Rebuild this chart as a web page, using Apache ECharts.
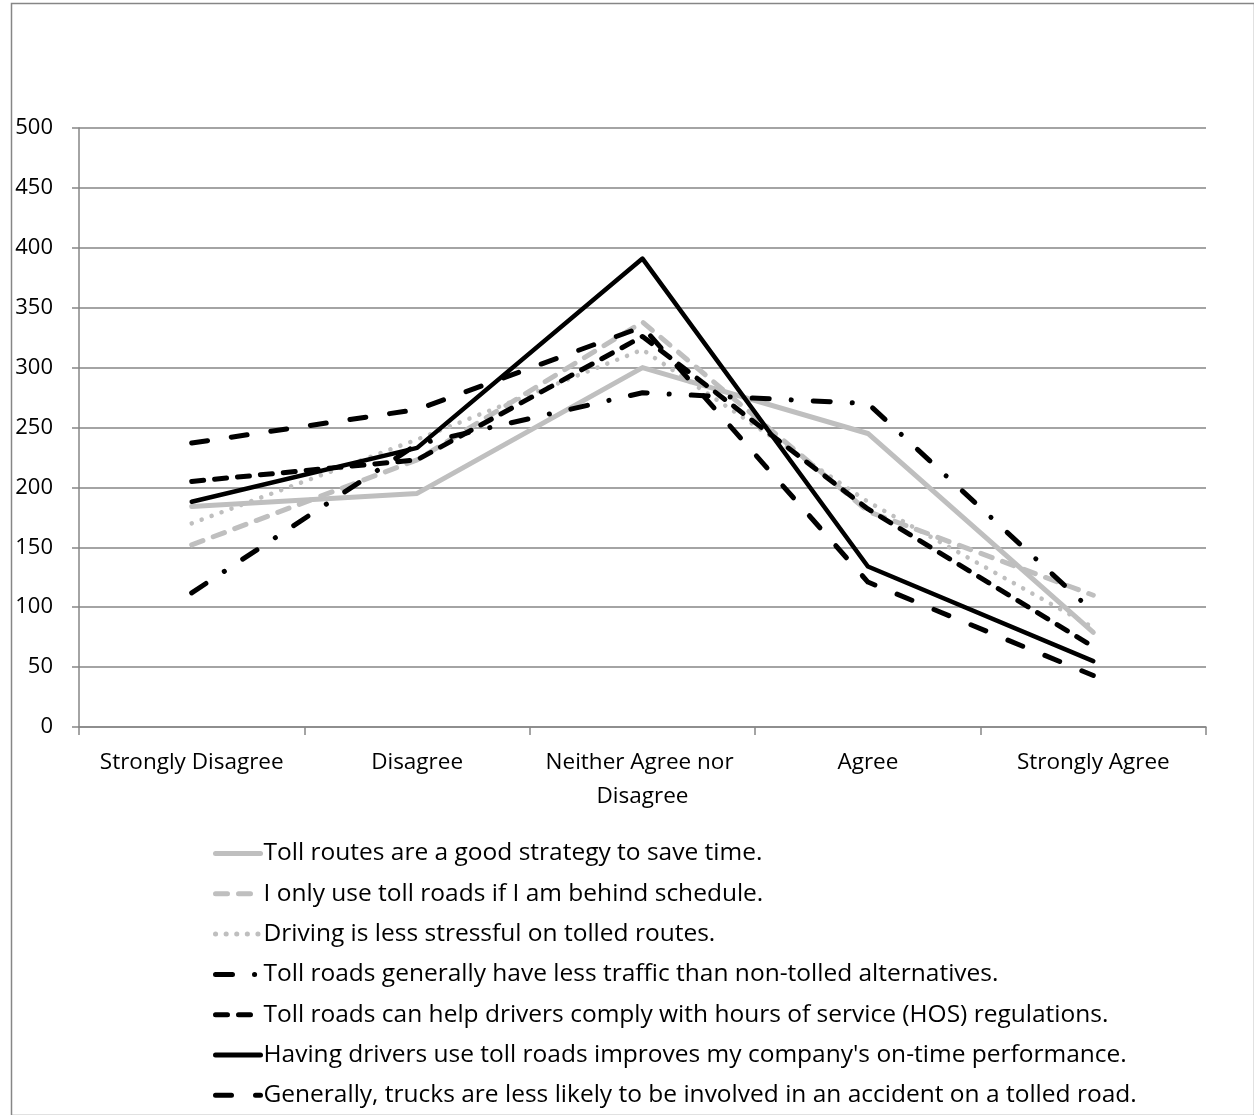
<!DOCTYPE html>
<html>
<head>
<meta charset="utf-8">
<script src="https://cdn.jsdelivr.net/npm/echarts@6/dist/echarts.min.js"></script>
<style>
html,body{margin:0;padding:0;background:#fff;}
#chart{width:1254px;height:1115px;}
</style>
</head>
<body>
<div id="chart"></div>
<script>
var categories = ['Strongly Disagree', 'Disagree', 'Neither Agree nor Disagree', 'Agree', 'Strongly Agree'];
var yTicks = [0, 50, 100, 150, 200, 250, 300, 350, 400, 450, 500];
var seriesNames = [
  'Toll routes are a good strategy to save time.',
  'I only use toll roads if I am behind schedule.',
  'Driving is less stressful on tolled routes.',
  'Toll roads generally have less traffic than non-tolled alternatives.',
  'Toll roads can help drivers comply with hours of service (HOS) regulations.',
  "Having drivers use toll roads improves my company's on-time performance.",
  'Generally, trucks are less likely to be involved in an accident on a tolled road.'
];
var saveTime = [184, 195, 300, 245, 79];
var behindSchedule = [152, 223, 338, 180, 110];
var lessStressful = [170, 240, 315, 188, 83];
var lessTraffic = [112, 236, 279, 270, 96];
var hosCompliance = [205, 223, 326, 182, 67];
var onTime = [188, 233, 391, 134, 55];
var fewerAccidents = [237, 265, 334, 121, 43];

var GRAY = '#BFBFBF';
var styles = [
  {color: GRAY, width: 5, type: 'solid'},
  {color: GRAY, width: 5, type: [12, 11]},
  {color: GRAY, width: 4.5, type: [0.1, 10.5]},
  {color: '#000', width: 5, type: [17, 22, 0.1, 22]},
  {color: '#000', width: 5, type: [12, 11]},
  {color: '#000', width: 4.5, type: 'solid'},
  {color: '#000', width: 5, type: [16, 24]}
];
var dataSets = [saveTime, behindSchedule, lessStressful, lessTraffic, hosCompliance, onTime, fewerAccidents];

var chart = echarts.init(document.getElementById('chart'));
var FONT = 'Open Sans';
chart.setOption({
  animation: false,
  backgroundColor: '#fff',
  graphic: [{
    type: 'rect', left: 9, top: 1,
    shape: {width: 1243, height: 1112},
    style: {fill: 'none', stroke: '#868686', lineWidth: 1.5},
    silent: true
  }],
  grid: {left: 79, right: 48, top: 128, bottom: 388},
  xAxis: {
    type: 'category',
    data: categories,
    boundaryGap: true,
    axisLine: {lineStyle: {color: '#868686', width: 1.5}},
    axisTick: {show: true, length: 8, lineStyle: {color: '#868686', width: 1.5}},
    axisLabel: {
      interval: 0,
      color: '#000', fontFamily: FONT, fontSize: 22.5, margin: 19,
      width: 220, overflow: 'break', lineHeight: 34
    }
  },
  yAxis: {
    type: 'value', min: 0, max: 500, interval: 50,
    axisLine: {show: true, lineStyle: {color: '#868686', width: 1.5}},
    axisTick: {show: true, length: 7, lineStyle: {color: '#868686', width: 1.5}},
    splitLine: {lineStyle: {color: '#868686', width: 1.5}},
    axisLabel: {color: '#000', fontFamily: FONT, fontSize: 22, margin: 26,
      formatter: function (v) { return yTicks.indexOf(v) >= 0 ? String(v) : ''; }}
  },
  legend: {
    orient: 'vertical',
    left: 213, top: 841,
    width: 1000, height: 400,
    padding: 0,
    itemWidth: 45, itemHeight: 14, itemGap: 15.3,
    itemStyle: {opacity: 0},
    lineStyle: {width: 5},
    textStyle: {color: '#000', fontFamily: FONT, fontSize: 24.5, lineHeight: 24, padding: [0, 0, 0, -2]},
    data: seriesNames
  },
  series: seriesNames.map(function (name, i) {
    var s = styles[i];
    return {
      name: name,
      type: 'line',
      data: dataSets[i],
      symbol: 'none',
      lineStyle: {color: s.color, width: s.width, type: s.type, cap: 'round', join: 'round'},
      itemStyle: {color: s.color}
    };
  })
});
</script>
</body>
</html>
